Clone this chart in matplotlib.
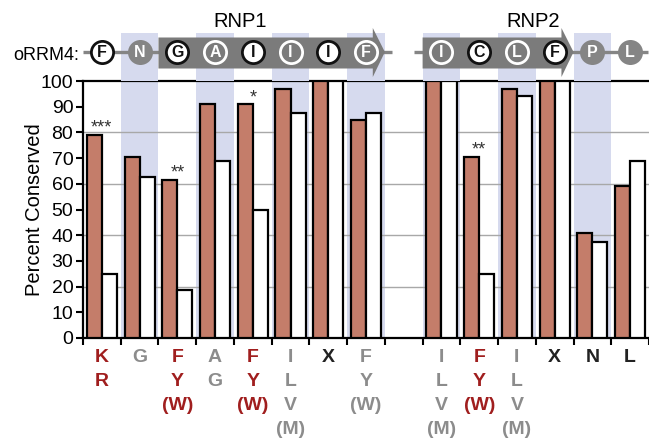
import numpy as np
import matplotlib
matplotlib.use("Agg")
import matplotlib.pyplot as plt
from matplotlib.patches import Rectangle, Polygon
import matplotlib.transforms as mtransforms

plt.rcParams['font.family'] = ['Liberation Sans', 'DejaVu Sans']

# ---------------- data ----------------
residues = ["F", "N", "G", "A", "I", "I", "I", "F", "I", "C", "L", "F", "P", "L"]
res_style = ["open", "solid", "open", "ring", "open", "ring", "open", "ring",
             "ring", "open", "ring", "open", "solid", "solid"]
red_vals = [79, 70.5, 61.5, 91, 91, 97, 100, 85, 100, 70.5, 97, 100, 41, 59]
white_vals = [25, 62.5, 18.5, 69, 50, 87.5, 100, 87.5, 100, 25, 94, 100, 37.5, 69]
stars = ["***", "", "**", "", "*", "", "", "", "", "**", "", "", "", ""]
consensus = [["K", "R"], ["G"], ["F", "Y", "(W)"], ["A", "G"], ["F", "Y", "(W)"],
             ["I", "L", "V", "(M)"], ["X"], ["F", "Y", "(W)"],
             ["I", "L", "V", "(M)"], ["F", "Y", "(W)"], ["I", "L", "V", "(M)"],
             ["X"], ["N"], ["L"]]
cons_kind = ["key", "minor", "key", "minor", "key", "minor", "any", "minor",
             "minor", "key", "minor", "any", "any", "any"]
shaded = [False, True, False, True, False, True, False, True,
          True, False, True, False, True, False]
motifs = [("RNP1", 2, 7), ("RNP2", 8, 11)]
yticks = list(range(0, 101, 10))
grid_vals = [20, 40, 60, 80]

# ---------------- style ----------------
RED = "#c47d6a"
SHADE = "#d6daee"
BAND = "#7b7b7b"
LINEG = "#858585"
KEYRED = "#a01e1e"
MINOR = "#8c8c8c"
kind_color = {"key": KEYRED, "minor": MINOR, "any": "#222222"}

W, H = 649, 438
fig = plt.figure(figsize=(W / 100, H / 100), dpi=100)
L, R, T, B = 83, 649, 81, 338
ax = fig.add_axes([L / W, 1 - B / H, (R - L) / W, (B - T) / H])
axt = fig.add_axes([L / W, 1 - T / H, (R - L) / W, T / H])

xpos = np.r_[np.arange(8), np.arange(9, 15)]
slot_px = (R - L) / 15.0


def px2x(p):
    return (p - L) / slot_px - 0.5


# ---------------- main axes ----------------
ax.set_xlim(-0.5, 14.5)
ax.set_ylim(0, 100)
for x, s in zip(xpos, shaded):
    if s:
        ax.axvspan(x - 0.5, x + 0.5, color=SHADE, lw=0, zorder=0)
ax.hlines(grid_vals, -0.5, 14.5, color="#a8a8a8", lw=1, zorder=1)
ax.bar(xpos - 0.2, red_vals, 0.4, color=RED, edgecolor="black", linewidth=1.6, zorder=3)
ax.bar(xpos + 0.2, white_vals, 0.4, color="white", edgecolor="black", linewidth=1.6, zorder=3)

for x, v, s in zip(xpos, red_vals, stars):
    if s:
        ax.text(x, v + 0.8, s, ha="center", va="baseline", fontsize=13, color="#333333")

ax.set_yticks(yticks)
ax.set_yticklabels([str(v) for v in yticks], fontsize=14)
ax.set_xticks(np.arange(-0.5, 15, 1))
ax.set_xticklabels([])
ax.tick_params(axis="both", direction="out", length=5, width=1.5, color="black")
ax.tick_params(axis="y", pad=2)
for side in ["left", "top", "bottom"]:
    ax.spines[side].set_linewidth(1.6)
    ax.spines[side].set_color("black")
ax.spines["right"].set_visible(False)

for x, lines, k in zip(xpos, consensus, cons_kind):
    for j, s in enumerate(lines):
        tr = mtransforms.offset_copy(ax.transData, fig=fig, x=0, y=-(24.5 + 24 * j), units="dots")
        ax.text(x, 0, s, transform=tr, ha="center", va="baseline", fontsize=14,
                fontweight="bold", color=kind_color[k], clip_on=False)

fig.text(35 / W, 1 - 210 / H, "Percent Conserved", rotation=90, ha="center",
         va="center", fontsize=14.5)

# ---------------- top annotation ----------------
axt.set_xlim(-0.5, 14.5)
axt.set_ylim(T, 0)
axt.axis("off")
for x, s in zip(xpos, shaded):
    if s:
        axt.add_patch(Rectangle((x - 0.5, 33), 1, T - 33, color=SHADE, lw=0, zorder=0))

axt.plot([-0.5, px2x(392)], [52, 52], color=LINEG, lw=2.4, solid_capstyle="butt", zorder=1, clip_on=False)
axt.plot([px2x(414), px2x(648)], [52, 52], color=LINEG, lw=2.4, solid_capstyle="butt", zorder=1, clip_on=False)

label_px = {"RNP1": 240, "RNP2": 533}
for name, i0, i1 in motifs:
    x0 = xpos[i0] - 0.5
    xt = xpos[i1] + 0.5
    xh = xt - 0.32
    pts = [(x0, 37.5), (xh, 37.5), (xh, 28), (xt, 52), (xh, 77), (xh, 68.5), (x0, 68.5)]
    axt.add_patch(Polygon(pts, closed=True, color=BAND, lw=0, zorder=2))
    axt.text(px2x(label_px[name]), 27, name, ha="center", va="baseline", fontsize=14.5)

for x, r, st in zip(xpos, residues, res_style):
    if st == "open":
        mfc, mec, tc = "white", "#111111", "#111111"
    elif st == "ring":
        mfc, mec, tc = "none", "white", "white"
    else:
        mfc, mec, tc = LINEG, LINEG, "white"
    axt.plot(x, 52, "o", ms=16, mfc=mfc, mec=mec, mew=2.0, zorder=4, clip_on=False)
    axt.text(x, 57, r, ha="center", va="baseline", fontsize=11.5, fontweight="bold",
             color=tc, zorder=5)

axt.text(px2x(79), 59.5, "oRRM4:", ha="right", va="baseline", fontsize=13, clip_on=False)

fig.savefig("out.png", dpi=100)
